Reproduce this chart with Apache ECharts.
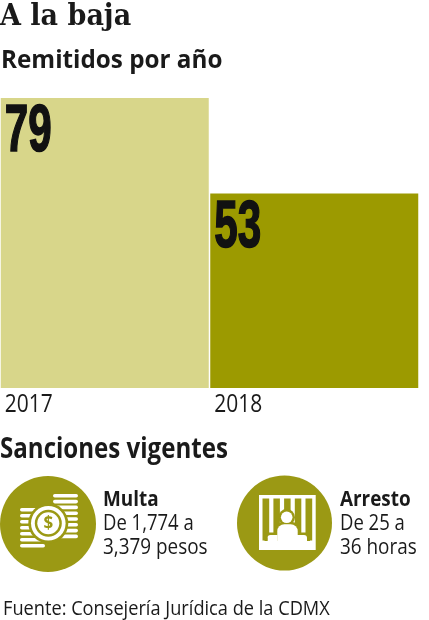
<!DOCTYPE html>
<html><head><meta charset="utf-8">
<script src="https://cdn.jsdelivr.net/npm/echarts@6/dist/echarts.min.js"></script>
<style>html,body{margin:0;padding:0;background:#fff}#c{width:429px;height:620px}</style>
</head><body><div id="c"></div>
<script>
const years = ['2017', '2018'];
const remitidos = [79, 53];
const barColors = ['#d8d68a', '#9c9a00'];
const title = 'A la baja';
const subtitle = 'Remitidos por año';
const section = 'Sanciones vigentes';
const multaLines = ['Multa', 'De 1,774 a', '3,379 pesos'];
const arrestoLines = ['Arresto', 'De 25 a', '36 horas'];
const source = 'Fuente: Consejería Jurídica de la CDMX';

const INK = '#1a1a1a';
const OLIVE = '#9b9914';
const W = '#ffffff';

function txt(text, x, y, font, sx, extra) {
  return Object.assign({type: 'text', x: x, y: y, scaleX: sx || 1,
    style: {text: text, font: font, fill: INK, align: 'left', verticalAlign: 'middle'}}, extra || {});
}

const graphics = [];
graphics.push(txt(title, 0, 17.5, 'bold 30px "DejaVu Serif"', 0.9));
graphics.push(txt(subtitle, 1, 60.5, 'bold 25px "Open Sans"', 0.97));
graphics.push(txt(section, 0, 450, 'bold 28px "Open Sans"', 0.86));
[[multaLines, 103], [arrestoLines, 340]].forEach(function (p) {
  const lines = p[0], x = p[1];
  graphics.push(txt(lines[0], x, 500, 'bold 21px "Open Sans"', 0.9));
  graphics.push(txt(lines[1], x, 524, '21px "Open Sans"', 0.88));
  graphics.push(txt(lines[2], x, 548, '21px "Open Sans"', 0.9));
});
graphics.push(txt(source, 3, 609, '20px "Open Sans"', 0.91));

// coin icon
const cx = 48, cy = 524;
graphics.push({type: 'circle', shape: {cx: cx, cy: cy, r: 48}, style: {fill: OLIVE}});
for (let i = 0; i < 8; i++) {
  graphics.push({type: 'rect', shape: {x: 53, y: 494 + i * 5.8, width: 25, height: 3.6, r: 1.8}, style: {fill: W}});
}
for (let i = 0; i < 7; i++) {
  graphics.push({type: 'rect', shape: {x: 20, y: 508 + i * 6, width: 25, height: 3.6, r: 1.8}, style: {fill: W}});
}
graphics.push({type: 'circle', shape: {cx: 48.3, cy: 523.3, r: 20}, style: {fill: OLIVE}});
graphics.push({type: 'circle', shape: {cx: 48.3, cy: 523.3, r: 17.3}, style: {fill: W}});
graphics.push({type: 'circle', shape: {cx: 48.3, cy: 523.3, r: 13.5}, style: {fill: OLIVE}});
graphics.push({type: 'circle', shape: {cx: 48.3, cy: 523.3, r: 11}, style: {fill: W}});
graphics.push({type: 'text', x: 48.3, y: 524, style: {text: '$', font: 'bold 17px "Open Sans"', fill: OLIVE, align: 'center', verticalAlign: 'middle'}});

// jail icon
graphics.push({type: 'circle', shape: {cx: 284.5, cy: 523, r: 47.5}, style: {fill: OLIVE}});
graphics.push({type: 'rect', shape: {x: 260.75, y: 496.75, width: 53.2, height: 51.5}, style: {fill: 'none', stroke: W, lineWidth: 3.5}});
[269.2, 279.9, 290.6, 301.3].forEach(function (bx) {
  graphics.push({type: 'rect', shape: {x: bx, y: 498, width: 4.2, height: 44}, style: {fill: W}});
});
graphics.push({type: 'rect', shape: {x: 260, y: 540.5, width: 55, height: 9.5}, style: {fill: W}});
graphics.push({type: 'circle', shape: {cx: 286.7, cy: 517.3, r: 8.3}, style: {fill: OLIVE}});
graphics.push({type: 'rect', shape: {x: 274.8, y: 521.8, width: 25.4, height: 18.7, r: [9, 9, 0, 0]}, style: {fill: OLIVE}});
graphics.push({type: 'rect', shape: {x: 265.5, y: 532.5, width: 43.5, height: 8}, style: {fill: OLIVE}});
graphics.push({type: 'circle', shape: {cx: 286.7, cy: 517.3, r: 5.8}, style: {fill: W}});
graphics.push({type: 'rect', shape: {x: 277.3, y: 524.3, width: 20.4, height: 17, r: [7, 7, 0, 0]}, style: {fill: W}});
graphics.push({type: 'rect', shape: {x: 267.5, y: 535, width: 10, height: 6, r: [3, 0, 0, 0]}, style: {fill: W}});
graphics.push({type: 'rect', shape: {x: 297, y: 535, width: 10, height: 6, r: [0, 3, 0, 0]}, style: {fill: W}});
graphics.push({type: 'rect', shape: {x: 264.5, y: 537.5, width: 3, height: 3.5}, style: {fill: OLIVE}});
graphics.push({type: 'rect', shape: {x: 307, y: 537.5, width: 3, height: 3.5}, style: {fill: OLIVE}});

const chart = echarts.init(document.getElementById('c'), null, {renderer: 'canvas'});
chart.setOption({
  animation: false,
  backgroundColor: '#fff',
  grid: {left: 0, right: 10, top: 98, bottom: 232, containLabel: false},
  xAxis: {type: 'category', data: years, axisLine: {show: false}, axisTick: {show: false}, axisLabel: {show: false}, splitLine: {show: false}},
  yAxis: {type: 'value', min: 0, max: 79, show: false, splitLine: {show: false}},
  series: [
    {
      type: 'bar', barWidth: 208, barGap: '0%', z: 2,
      data: remitidos.map(function (v, i) { return {value: v, itemStyle: {color: barColors[i]}}; }),
      label: {show: false}
    },
    {
      type: 'custom', silent: true, z: 10,
      data: remitidos.map(function (v, i) { return [i, v]; }),
      renderItem: function (params, api) {
        const i = api.value(0), v = api.value(1);
        const top = api.coord([i, v]);
        const base = api.coord([i, 0]);
        const left = top[0] - 104;
        return {type: 'group', children: [
          {type: 'text', x: left + 4, y: top[1] + 35, scaleX: 0.64, z2: 100,
           style: {text: String(v), font: 'bold 66px "Liberation Sans"', fill: '#111', stroke: '#111', lineWidth: 1.6, align: 'left', verticalAlign: 'middle'}},
          {type: 'text', x: left + 4, y: base[1] + 17, scaleX: 0.84,
           style: {text: years[i], font: '25px "Open Sans"', fill: INK, align: 'left', verticalAlign: 'middle'}}
        ]};
      }
    }
  ],
  graphic: graphics
});
</script></body></html>
